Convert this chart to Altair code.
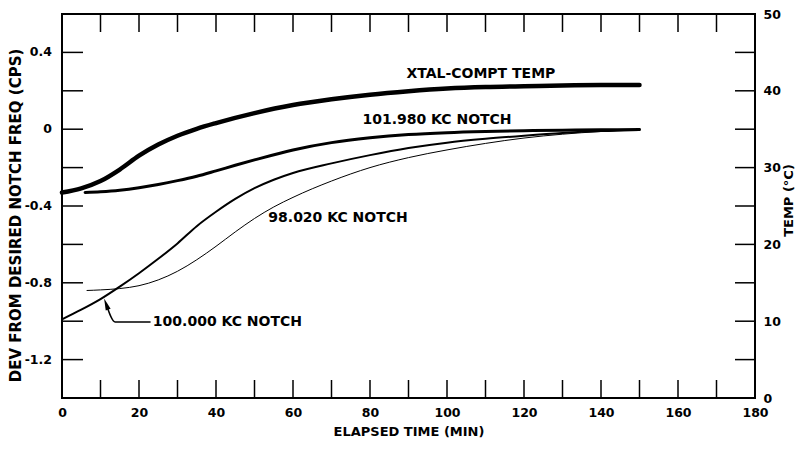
import altair as alt
import pandas as pd

# ---- data ----
xtal_t = [0, 5, 10, 15, 20, 25, 30, 35, 40, 50, 60, 70, 80, 90, 100, 110, 120, 130, 140, 150]
xtal_temp = [26.75, 27.3, 28.25, 29.75, 31.55, 33.0, 34.15, 35.05, 35.8, 37.1, 38.15, 38.9,
             39.5, 39.95, 40.3, 40.5, 40.6, 40.7, 40.75, 40.75]

n101_t = [6, 10, 15, 20, 25, 30, 35, 40, 45, 50, 60, 70, 80, 90, 100, 110, 120, 130, 140, 150]
n101_v = [-0.33, -0.326, -0.318, -0.305, -0.288, -0.268, -0.245, -0.217, -0.188, -0.16,
          -0.108, -0.07, -0.045, -0.028, -0.018, -0.012, -0.008, -0.005, -0.003, -0.002]

n100_t = [0, 5, 10, 15, 20, 25, 30, 35, 40, 45, 50, 55, 60, 70, 80, 90, 100, 110, 120, 130, 140, 150]
n100_v = [-0.99, -0.94, -0.885, -0.82, -0.75, -0.675, -0.595, -0.505, -0.43, -0.363, -0.307,
          -0.263, -0.228, -0.178, -0.135, -0.098, -0.07, -0.05, -0.034, -0.02, -0.01, -0.004]

n98_t = [6.5, 10, 15, 20, 25, 30, 35, 40, 45, 50, 55, 60, 70, 80, 90, 100, 110, 120, 130, 140, 150]
n98_v = [-0.84, -0.837, -0.83, -0.815, -0.785, -0.74, -0.68, -0.61, -0.535, -0.465, -0.405,
         -0.355, -0.27, -0.2, -0.148, -0.108, -0.074, -0.046, -0.026, -0.012, -0.004]

x_label_ticks = [0, 20, 40, 60, 80, 100, 120, 140, 160, 180]
x_minor_ticks = [10, 20, 30, 40, 50, 60, 70, 80, 90, 100, 110, 120, 130, 140, 150, 160, 170]
dev_label_ticks = [-1.2, -0.8, -0.4, 0, 0.4]
dev_label_text = ["-1.2", "-0.8", "-0.4", "0", "0.4"]
dev_minor_ticks = [-1.2, -1.0, -0.8, -0.6, -0.4, -0.2, 0, 0.2, 0.4]
temp_label_ticks = [0, 10, 20, 30, 40, 50]
temp_minor_ticks = [5, 10, 15, 20, 25, 30, 35, 40, 45]

label_text = ["XTAL-COMPT TEMP", "101.980 KC NOTCH", "98.020 KC NOTCH"]
label_x = [108.8, 97.4, 71.7]
label_v = [0.2875, 0.048, -0.4625]

note_text = ["100.000 KC NOTCH"]
note_x = [23.6]
note_v = [-1.004]

arrow_x = [23.0, 13.8, 11.6]
arrow_v = [-1.004, -1.004, -0.918]
arrowhead_x = [11.6]
arrowhead_v = [-0.918]

# ---- scales & axes ----
xs = alt.Scale(domain=[0, 180], nice=False, zero=False)
ys = alt.Scale(domain=[-1.4, 0.6], nice=False, zero=False)
ts = alt.Scale(domain=[0, 50], nice=False, zero=False)

W, H = 693, 384
FONT = "DejaVu Sans"
TICK_FS = 12.5
common = dict(labelFont=FONT, labelFontWeight="bold", labelFontSize=TICK_FS, labelColor="black",
              titleFont=FONT, titleFontWeight="bold", titleColor="black",
              ticks=False, domain=False, grid=False, labelFlush=False, labelOverlap=False)

x_axis = alt.Axis(
    title="ELAPSED TIME (MIN)", values=x_label_ticks, labelPadding=8,
    titleY=33, titleBaseline="middle", titleFontSize=13, **common)
y_axis = alt.Axis(
    title="DEV FROM DESIRED NOTCH FREQ (CPS)", values=dev_label_ticks, labels=False,
    titleX=-47, titleY=201, titleAngle=270, titleAlign="center",
    titleBaseline="middle", titleFontSize=15, **common)
t_axis = alt.Axis(
    orient="right", title="TEMP (°C)", values=temp_label_ticks, labelPadding=8,
    titleX=33, titleY=H / 2 - 6, titleAngle=270, titleAlign="center", titleBaseline="middle",
    titleFontSize=13, **common)

X = lambda f: alt.X(f, scale=xs, axis=x_axis)
Y = lambda f: alt.Y(f, scale=ys, axis=y_axis)
T = lambda f: alt.Y(f, scale=ts, axis=t_axis)


def line_layer(t, v, width):
    df = pd.DataFrame({"t": t, "v": v, "o": list(range(len(t)))})
    return alt.Chart(df).mark_line(color="black", strokeWidth=width, interpolate="monotone",
                                   strokeCap="round").encode(x=X("t:Q"), y=Y("v:Q"), order="o:Q")


n100 = line_layer(n100_t, n100_v, 2)
n101 = line_layer(n101_t, n101_v, 3)
n98 = line_layer(n98_t, n98_v, 1)

# inward ticks
bot_ticks = alt.Chart(pd.DataFrame({"t": x_minor_ticks})).mark_rule(color="black", strokeWidth=1.5).encode(
    x=X("t:Q"), y=alt.value(H), y2=alt.value(H - 18))
top_ticks = alt.Chart(pd.DataFrame({"t": x_minor_ticks})).mark_rule(color="black", strokeWidth=1.5).encode(
    x=X("t:Q"), y=alt.value(0), y2=alt.value(18))
left_ticks = alt.Chart(pd.DataFrame({"v": dev_minor_ticks})).mark_rule(color="black", strokeWidth=1.5).encode(
    y=Y("v:Q"), x=alt.value(0), x2=alt.value(21))

# left tick labels
left_labels = alt.Chart(pd.DataFrame({"v": dev_label_ticks, "s": dev_label_text})).mark_text(
    font=FONT, fontWeight="bold", fontSize=TICK_FS, color="black", align="right", baseline="middle").encode(
    y=Y("v:Q"), x=alt.value(-10), text="s:N")

labels = alt.Chart(pd.DataFrame({"t": label_x, "v": label_v, "s": label_text})).mark_text(
    font=FONT, fontWeight="bold", fontSize=14, color="black", align="center", baseline="middle").encode(
    x=X("t:Q"), y=Y("v:Q"), text="s:N")
note = alt.Chart(pd.DataFrame({"t": note_x, "v": note_v, "s": note_text})).mark_text(
    font=FONT, fontWeight="bold", fontSize=14, color="black", align="left", baseline="middle").encode(
    x=X("t:Q"), y=Y("v:Q"), text="s:N")
arrow = alt.Chart(pd.DataFrame({"t": arrow_x, "v": arrow_v, "o": [0, 1, 2]})).mark_line(
    color="black", strokeWidth=1.5, interpolate="monotone").encode(
    x=X("t:Q"), y=Y("v:Q"), order="o:Q")
head = alt.Chart(pd.DataFrame({"t": arrowhead_x, "v": arrowhead_v})).mark_point(
    shape="M0,-1L0.35,0.6L-0.35,0.6Z", filled=True, color="black", opacity=1, size=220, angle=340).encode(
    x=X("t:Q"), y=Y("v:Q"))

left_group = alt.layer(n100, n101, n98, bot_ticks, top_ticks, left_ticks, left_labels,
                       labels, note, arrow, head)

# temperature (right axis)
xtal = pd.DataFrame({"t": xtal_t, "T": xtal_temp})
temp_line = alt.Chart(xtal).mark_line(color="black", strokeWidth=4.5, interpolate="monotone",
                                      strokeCap="round").encode(x=X("t:Q"), y=T("T:Q"))
right_ticks = alt.Chart(pd.DataFrame({"T": temp_minor_ticks})).mark_rule(color="black", strokeWidth=1.5).encode(
    y=T("T:Q"), x=alt.value(W), x2=alt.value(W - 20))

right_group = alt.layer(temp_line, right_ticks)

chart = alt.layer(left_group, right_group).resolve_scale(y="independent").properties(
    width=W, height=H,
    background="white",
    autosize=alt.AutoSizeParams(type="none"),
    padding={"left": 54, "top": 6, "right": 40, "bottom": 40},
).configure_view(stroke="black", strokeWidth=2)

chart.save("out.html", embed_options={"renderer": "svg", "actions": False})
